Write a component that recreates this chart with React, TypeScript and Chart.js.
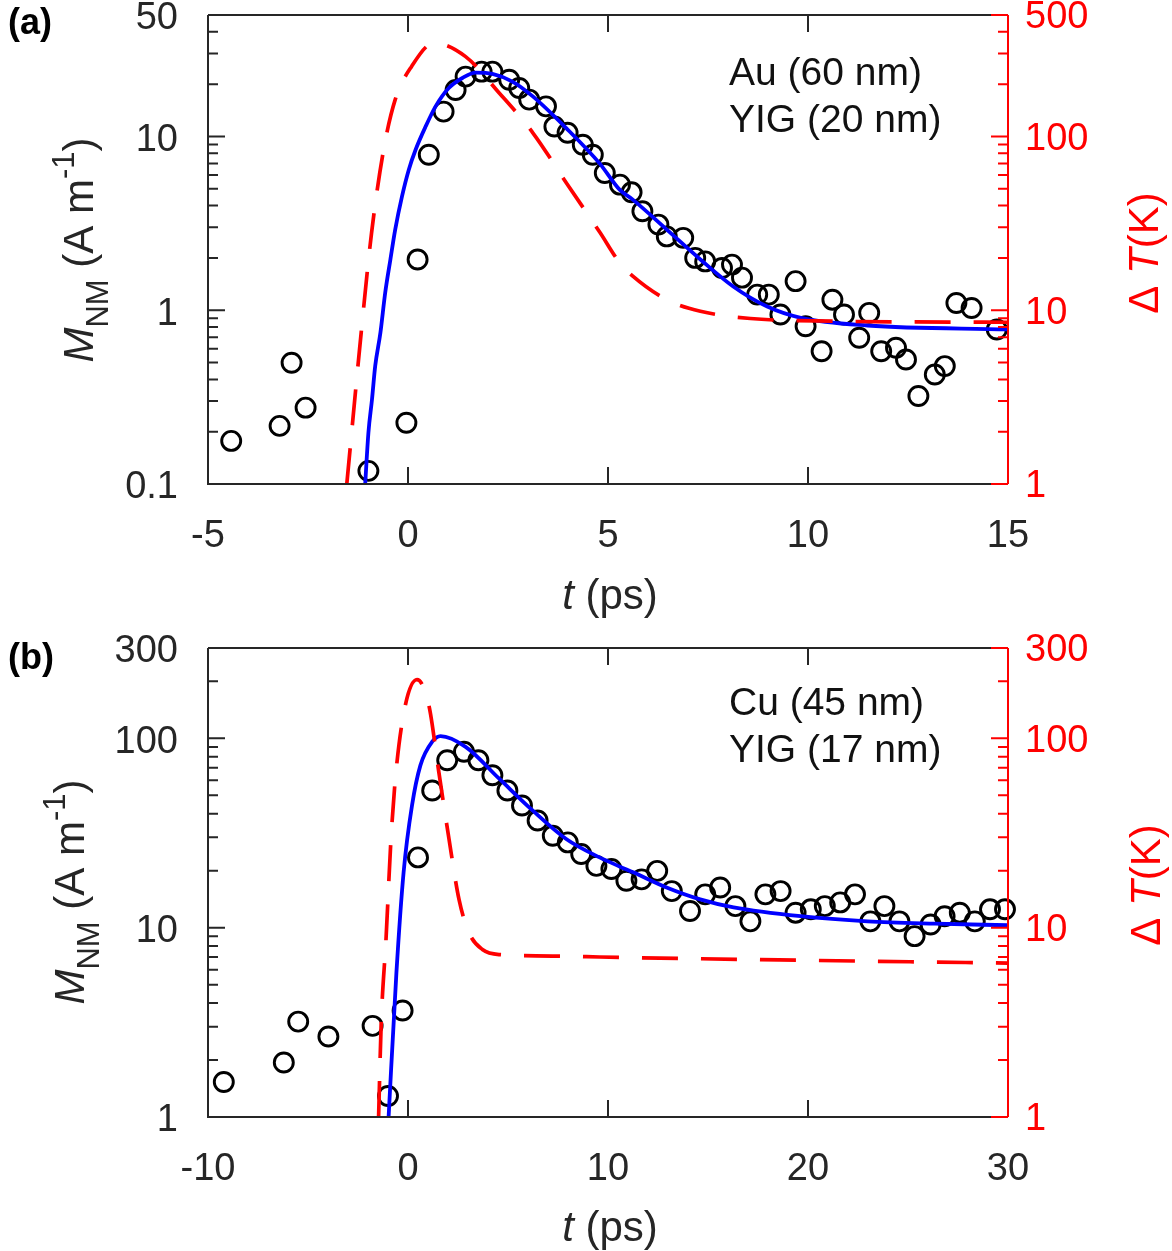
import React, { useEffect, useRef } from 'react';
import { Chart, registerables } from 'chart.js';
Chart.register(...registerables);

const FONT = "'Liberation Sans', Arial, Helvetica, sans-serif";
const DARK = '#262626';
const RED = '#ff0000';
const BLUE = '#0000ff';

// ---------- Panel (a): Au (60 nm) / YIG (20 nm) ----------
const aPointsT = [-4.42, -3.21, -2.91, -2.56, -0.99, -0.04, 0.24, 0.52, 0.89, 1.19, 1.44, 1.84, 2.11, 2.53, 2.78, 3.03, 3.45, 3.66, 3.99, 4.37, 4.62, 4.92, 5.3, 5.59, 5.86, 6.26, 6.47, 6.88, 7.18, 7.43, 7.85, 8.1, 8.35, 8.73, 9.02, 9.31, 9.69, 9.94, 10.34, 10.61, 10.9, 11.28, 11.53, 11.83, 12.2, 12.45, 12.76, 13.17, 13.42, 13.71, 14.09, 14.72];
const aPointsM = [0.177, 0.216, 0.499, 0.275, 0.119, 0.225, 1.96, 7.85, 13.9, 18.5, 22.1, 23.6, 23.6, 21.2, 19.0, 16.3, 14.9, 11.4, 10.5, 8.96, 7.85, 6.16, 5.28, 4.77, 3.71, 3.11, 2.66, 2.61, 2.0, 1.91, 1.75, 1.83, 1.54, 1.23, 1.23, 0.945, 1.47, 0.809, 0.581, 1.15, 0.945, 0.694, 0.966, 0.581, 0.608, 0.521, 0.321, 0.427, 0.477, 1.10, 1.03, 0.775];
const aFitT = [-1.07, -0.99, -0.9, -0.82, -0.69, -0.57, -0.44, -0.32, -0.15, 0.02, 0.19, 0.44, 0.69, 1.02, 1.36, 1.69, 2.11, 2.61, 3.12, 3.95, 4.79, 5.29, 5.62, 6.47, 7.31, 8.13, 8.98, 9.82, 11.49, 15.0];
const aFitM = [0.1, 0.197, 0.307, 0.477, 0.741, 1.26, 1.96, 2.91, 4.52, 6.44, 8.39, 11.4, 14.9, 19.0, 21.7, 23.3, 22.9, 20.7, 17.0, 11.2, 7.0, 4.94, 4.33, 2.91, 1.96, 1.37, 1.05, 0.904, 0.817, 0.775];
const aTempT = [-1.53, -1.17, -0.91, -0.61, -0.32, 0.09, 0.65, 1.44, 2.28, 3.12, 3.96, 4.8, 5.29, 5.62, 6.47, 7.31, 8.56, 10.65, 15.0];
const aTempK = [1, 7.45, 28, 83.8, 163, 253, 345, 288, 178, 105, 54, 28, 18.8, 15.7, 11.5, 9.87, 8.96, 8.65, 8.53];
const aXTicks = [-5, 0, 5, 10, 15];
const aYTicks = [0.1, 1, 10, 50];
const aY2Ticks = [1, 10, 100, 500];

// ---------- Panel (b): Cu (45 nm) / YIG (17 nm) ----------
const bPointsT = [-9.21, -6.21, -5.49, -3.98, -1.77, -1.0, -0.27, 0.5, 1.21, 1.96, 2.8, 3.52, 4.22, 4.97, 5.7, 6.48, 7.24, 7.99, 8.66, 9.42, 10.17, 10.92, 11.68, 12.46, 13.19, 14.1, 14.86, 15.61, 16.37, 17.12, 17.87, 18.63, 19.38, 20.14, 20.84, 21.61, 22.35, 23.12, 23.82, 24.57, 25.33, 26.13, 26.83, 27.59, 28.34, 29.1, 29.85];
const bPointsM = [1.53, 1.94, 3.19, 2.66, 3.03, 1.29, 3.65, 23.5, 53, 76.6, 84.9, 76.6, 63.8, 53, 44.2, 36.8, 30.6, 28.2, 24.5, 21.2, 20.4, 17.7, 18.0, 19.96, 15.6, 12.25, 15.0, 16.3, 13.0, 10.8, 15.0, 15.6, 12.0, 12.5, 13.0, 13.6, 15.0, 10.8, 13.0, 10.8, 9.02, 10.4, 11.5, 12.0, 10.8, 12.5, 12.5];
const bFitT = [-0.97, -0.58, -0.22, 0.2, 0.62, 1.21, 1.63, 2.88, 4.56, 6.23, 7.91, 9.58, 10.6, 11.26, 12.93, 14.61, 16.28, 19.63, 22.98, 26.33, 30.0];
const bFitM = [1, 5.77, 19.6, 44.2, 72, 96, 102.8, 90.2, 61.2, 41.6, 29.4, 23.5, 21.0, 19.6, 16.3, 14.1, 12.8, 11.5, 10.8, 10.5, 10.3];
const bTempT = [-1.47, -1.34, -1.1, -0.85, -0.6, -0.13, 0.45, 1.04, 1.54, 2.05, 2.55, 3.05, 3.72, 4.56, 7.91, 9.58, 19.63, 30.0];
const bTempK = [1, 3.13, 8.67, 29.4, 66.5, 150, 204, 150, 66.5, 29.4, 14.1, 9.4, 7.67, 7.21, 7.07, 7.0, 6.73, 6.5];
const bXTicks = [-10, 0, 10, 20, 30];
const bYTicks = [1, 10, 100, 300];
const bY2Ticks = [1, 10, 100, 300];

type Seg = { t: string; f: string; dy?: number };

function drawRich(ctx: CanvasRenderingContext2D, segs: Seg[], x: number, y: number, rotate: boolean, color: string) {
  ctx.save();
  ctx.fillStyle = color;
  ctx.textBaseline = 'alphabetic';
  ctx.textAlign = 'left';
  let total = 0;
  const widths = segs.map((s) => {
    ctx.font = s.f;
    const w = ctx.measureText(s.t).width;
    total += w;
    return w;
  });
  ctx.translate(x, y);
  if (rotate) ctx.rotate(-Math.PI / 2);
  let cx = -total / 2;
  segs.forEach((s, i) => {
    ctx.font = s.f;
    ctx.fillText(s.t, cx, s.dy || 0);
    cx += widths[i];
  });
  ctx.restore();
}

function logMinors(min: number, max: number): number[] {
  const out: number[] = [];
  for (let d = Math.floor(Math.log10(min)); d <= Math.ceil(Math.log10(max)); d++) {
    for (let k = 2; k <= 9; k++) {
      const v = k * Math.pow(10, d);
      if (v > min * 1.0001 && v < max * 0.9999) out.push(v);
    }
  }
  return out;
}

type Panel = {
  key: string;
  label: string;
  annot: [string, string];
  pT: number[]; pM: number[];
  fT: number[]; fM: number[];
  tT: number[]; tK: number[];
  xTicks: number[]; yTicks: number[]; y2Ticks: number[];
  height: number; padTop: number; xHeight: number;
  leftTitleX: number; leftTitleY: number;
  rightTitleX: number; rightTitleY: number;
  xTitleY: number; labelY: number; annotY: [number, number];
};

const panels: Panel[] = [
  {
    key: 'a', label: '(a)', annot: ['Au (60 nm)', 'YIG (20 nm)'],
    pT: aPointsT, pM: aPointsM, fT: aFitT, fM: aFitM, tT: aTempT, tK: aTempK,
    xTicks: aXTicks, yTicks: aYTicks, y2Ticks: aY2Ticks,
    height: 625, padTop: 15, xHeight: 141,
    leftTitleX: 93, leftTitleY: 250, rightTitleX: 1158, rightTitleY: 253,
    xTitleY: 609, labelY: 34, annotY: [85, 132],
  },
  {
    key: 'b', label: '(b)', annot: ['Cu (45 nm)', 'YIG (17 nm)'],
    pT: bPointsT, pM: bPointsM, fT: bFitT, fM: bFitM, tT: bTempT, tK: bTempK,
    xTicks: bXTicks, yTicks: bYTicks, y2Ticks: bY2Ticks,
    height: 621, padTop: 18, xHeight: 134,
    leftTitleX: 84, leftTitleY: 262, rightTitleX: 1160, rightTitleY: 255,
    xTitleY: 611, labelY: 39, annotY: [85, 132],
  },
];

function zeroPad(s: any) {
  s.paddingTop = 0;
  s.paddingBottom = 0;
  s.paddingLeft = 0;
  s.paddingRight = 0;
}

function makeChart(canvas: HTMLCanvasElement, p: Panel) {
  const xMin = p.xTicks[0], xMax = p.xTicks[p.xTicks.length - 1];
  const yMin = p.yTicks[0], yMax = p.yTicks[p.yTicks.length - 1];
  const y2Min = p.y2Ticks[0], y2Max = p.y2Ticks[p.y2Ticks.length - 1];

  const framePlugin = {
    id: 'frame_' + p.key,
    afterDatasetsDraw(chart: any) {
      const ctx: CanvasRenderingContext2D = chart.ctx;
      const { left, right, top, bottom } = chart.chartArea;
      const xs = chart.scales.x, ys = chart.scales.y, y2 = chart.scales.y2;
      ctx.save();
      ctx.lineWidth = 2;
      ctx.lineCap = 'butt';
      ctx.strokeStyle = DARK;
      ctx.beginPath();
      ctx.moveTo(left, top); ctx.lineTo(left, bottom); ctx.lineTo(right, bottom);
      ctx.moveTo(left, top); ctx.lineTo(right, top);
      ctx.stroke();
      ctx.beginPath();
      p.xTicks.forEach((v) => {
        const px = xs.getPixelForValue(v);
        ctx.moveTo(px, bottom); ctx.lineTo(px, bottom - 17);
        ctx.moveTo(px, top); ctx.lineTo(px, top + 17);
      });
      p.yTicks.forEach((v) => {
        const py = ys.getPixelForValue(v);
        ctx.moveTo(left, py); ctx.lineTo(left + 17, py);
      });
      logMinors(yMin, yMax).forEach((v) => {
        const py = ys.getPixelForValue(v);
        ctx.moveTo(left, py); ctx.lineTo(left + 10, py);
      });
      ctx.stroke();
      ctx.strokeStyle = RED;
      ctx.beginPath();
      ctx.moveTo(right, top); ctx.lineTo(right, bottom);
      p.y2Ticks.forEach((v) => {
        const py = y2.getPixelForValue(v);
        ctx.moveTo(right, py); ctx.lineTo(right - 17, py);
      });
      logMinors(y2Min, y2Max).forEach((v) => {
        const py = y2.getPixelForValue(v);
        ctx.moveTo(right, py); ctx.lineTo(right - 10, py);
      });
      ctx.stroke();
      ctx.restore();
    },
    afterDraw(chart: any) {
      const ctx: CanvasRenderingContext2D = chart.ctx;
      const T = `42px ${FONT}`, TI = `italic 42px ${FONT}`, S = `31px ${FONT}`;
      drawRich(ctx, [
        { t: 'M', f: TI },
        { t: 'NM', f: S, dy: 15 },
        { t: ' (A m', f: T },
        { t: '-1', f: S, dy: -19 },
        { t: ')', f: T },
      ], p.leftTitleX, p.leftTitleY, true, DARK);
      drawRich(ctx, [
        { t: 'Δ ', f: T },
        { t: 'T', f: TI },
        { t: '(K)', f: T },
      ], p.rightTitleX, p.rightTitleY, true, RED);
      drawRich(ctx, [
        { t: 't', f: TI },
        { t: ' (ps)', f: T },
      ], 610, p.xTitleY, false, DARK);
      ctx.save();
      ctx.fillStyle = '#000';
      ctx.textAlign = 'left';
      ctx.textBaseline = 'alphabetic';
      ctx.font = `bold 36px ${FONT}`;
      ctx.fillText(p.label, 8, p.labelY);
      ctx.font = `39px ${FONT}`;
      ctx.fillStyle = '#111';
      ctx.fillText(p.annot[0], 729, p.annotY[0]);
      ctx.fillText(p.annot[1], 729, p.annotY[1]);
      ctx.restore();
    },
  };

  const tickFont = { family: FONT, size: 38 };

  return new Chart(canvas, {
    type: 'scatter',
    data: {
      datasets: [
        {
          label: 'ΔT',
          data: p.tT.map((t, i) => ({ x: t, y: p.tK[i] })),
          yAxisID: 'y2',
          showLine: true,
          borderColor: RED,
          borderWidth: 3.7,
          borderDash: [36, 23],
          pointRadius: 0,
          cubicInterpolationMode: 'monotone',
          fill: false,
        } as any,
        {
          label: 'fit',
          data: p.fT.map((t, i) => ({ x: t, y: p.fM[i] })),
          yAxisID: 'y',
          showLine: true,
          borderColor: BLUE,
          borderWidth: 3.8,
          pointRadius: 0,
          cubicInterpolationMode: 'monotone',
          fill: false,
        } as any,
        {
          label: 'data',
          data: p.pT.map((t, i) => ({ x: t, y: p.pM[i] })),
          yAxisID: 'y',
          showLine: false,
          pointStyle: 'circle',
          pointRadius: 9.5,
          pointBorderWidth: 2.9,
          pointBorderColor: '#000',
          pointBackgroundColor: 'rgba(0,0,0,0)',
          clip: false,
        } as any,
      ],
    },
    options: {
      animation: false,
      responsive: false,
      events: [],
      layout: { padding: { top: p.padTop, left: 0, right: 0, bottom: 0 }, autoPadding: false },
      plugins: { legend: { display: false }, tooltip: { enabled: false } },
      scales: {
        x: {
          type: 'linear', position: 'bottom', min: xMin, max: xMax,
          grid: { display: false, drawTicks: false },
          border: { display: false },
          ticks: { font: tickFont, color: DARK, padding: 30, maxRotation: 0, autoSkip: false, callback: (v: any) => String(v) },
          afterBuildTicks: (s: any) => { s.ticks = p.xTicks.map((v) => ({ value: v })); },
          afterFit: (s: any) => { s.height = p.xHeight; zeroPad(s); },
        },
        y: {
          type: 'logarithmic', position: 'left', min: yMin, max: yMax,
          grid: { display: false, drawTicks: false },
          border: { display: false },
          ticks: { font: tickFont, color: DARK, padding: 30, labelOffset: 4, autoSkip: false, callback: (v: any) => String(v) },
          afterBuildTicks: (s: any) => { s.ticks = p.yTicks.map((v) => ({ value: v })); },
          afterFit: (s: any) => { s.width = 208; zeroPad(s); },
        },
        y2: {
          type: 'logarithmic', position: 'right', min: y2Min, max: y2Max,
          grid: { display: false, drawTicks: false },
          border: { display: false },
          ticks: { font: tickFont, color: RED, padding: 17, labelOffset: 3, autoSkip: false, callback: (v: any) => String(v) },
          afterBuildTicks: (s: any) => { s.ticks = p.y2Ticks.map((v) => ({ value: v })); },
          afterFit: (s: any) => { s.width = 164; zeroPad(s); },
        },
      },
    } as any,
    plugins: [framePlugin],
  });
}

function PanelChart({ p, top }: { p: Panel; top: number }) {
  const ref = useRef<HTMLCanvasElement | null>(null);
  useEffect(() => {
    if (!ref.current) return;
    const chart = makeChart(ref.current, p);
    return () => chart.destroy();
  }, [p]);
  return (
    <canvas
      ref={ref}
      width={1172}
      height={p.height}
      style={{ position: 'absolute', left: 0, top, width: 1172, height: p.height }}
    />
  );
}

export default function App() {
  return (
    <div style={{ position: 'fixed', left: 0, top: 0, width: 1172, height: 1251, background: '#fff', overflow: 'hidden' }}>
      <PanelChart p={panels[0]} top={0} />
      <PanelChart p={panels[1]} top={630} />
    </div>
  );
}
